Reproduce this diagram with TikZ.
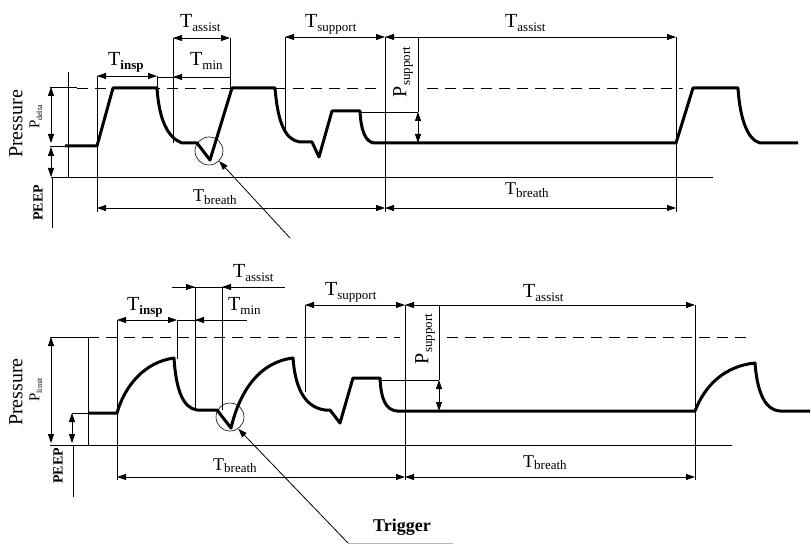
\documentclass[tikz,border=0pt]{standalone}
\usepackage{fontspec}
\setmainfont{Liberation Serif}
\usepackage{tikz}
\usetikzlibrary{arrows.meta}
\newcommand{\Tsub}[1]{T\raisebox{-0.35ex}{\fontsize{13}{13}\selectfont #1}}
\newcommand{\Psub}[2]{P\raisebox{-0.4ex}{\fontsize{#2}{#2}\selectfont #1}}
\tikzset{
  wave/.style={line width=3pt, line join=round},
  guide/.style={line width=0.8pt},
  refline/.style={line width=0.9pt, dash pattern=on 11pt off 7pt},
  dim/.style={guide, {Triangle[length=9pt,width=6pt]}-{Triangle[length=9pt,width=6pt]}},
  tip/.style={guide, -{Triangle[length=9pt,width=6pt]}},
  tlabel/.style={font=\fontsize{20}{20}\selectfont, inner sep=0pt, anchor=base west},
  blabel/.style={tlabel, font=\fontsize{18}{18}\selectfont},
  axlabel/.style={font=\fontsize{20}{20}\selectfont, rotate=90, inner sep=0pt},
  plabel/.style={font=\fontsize{15}{15}\selectfont, rotate=90, inner sep=0pt},
  peeplabel/.style={font=\bfseries\fontsize{14}{14}\selectfont, rotate=90, inner sep=0pt},
  trigcirc/.style={circle, draw, line width=0.6pt, minimum size=28pt, inner sep=0pt},
}
\begin{document}
\begin{tikzpicture}[x=1pt,y=-1pt]
\useasboundingbox (0,0) rectangle (811,545);
% upper panel: volume-limited breaths
\draw[guide] (51,177) -- (713,177);
\draw[guide] (52,177) -- (52,228);
\draw[guide] (68,72) -- (68,177);
\draw[guide] (50,87) -- (77,87);
\draw[refline] (77,88) -- (377,88);
\draw[refline] (427,88) -- (683,88);
\draw[dim] (51,87) -- (51,143);
\draw[dim] (51,147) -- (51,177);
\draw[guide] (50,146) -- (65,146);
\draw[wave] (65,146) -- (97,146) -- (113,88) -- (157,88)
  .. controls (159,120) and (168,138) .. (182,143) -- (197,143) -- (210,160) -- (232,88) -- (275,88)
  .. controls (278,125) and (286,140) .. (300,142) -- (312,142) -- (319,157) -- (332,111) -- (360,111)
  .. controls (361,132) and (366,142) .. (374,143) -- (676,143) -- (693,88) -- (738,88)
  .. controls (740,120) and (748,140) .. (760,143) -- (798,143);
\draw[guide] (97,76) -- (97,212);
\draw[guide] (157,76) -- (157,88);
\draw[guide] (173,38) -- (173,143);
\draw[guide] (230,38) -- (230,88);
\draw[guide] (285,37) -- (285,130);
\draw[guide] (385,37) -- (385,212);
\draw[guide] (676,37) -- (676,212);
\draw[guide] (418,37) -- (418,112);
\draw[guide] (360,112) -- (418,112);
\draw[dim] (97,76) -- (157,76);
\draw[guide] (157,77) -- (230,77);
\draw[tip] (205,77) -- (173,77);
\draw[dim] (173,38) -- (230,38);
\draw[dim] (285,37) -- (385,37);
\draw[dim] (385,37) -- (676,37);
\draw[dim] (418,112) -- (418,143);
\draw[dim] (97,208) -- (385,208);
\draw[dim] (385,208) -- (676,208);
\node[tlabel] (assistA) at (180,28) {\Tsub{assist}};
\node[tlabel] (inspA) at (108,66) {\Tsub{\textbf{insp}}};
\node[tlabel] (minA) at (190,66) {\Tsub{min}};
\node[tlabel] (supportA) at (305,28) {\Tsub{support}};
\node[tlabel] (assistB) at (505,28) {\Tsub{assist}};
\node[blabel] (breathA) at (193,202) {\Tsub{breath}};
\node[blabel] (breathB) at (505,195) {\Tsub{breath}};
\node[axlabel] (psupA) at (403,72) {\Psub{support}{13}};
\node[axlabel] (pressA) at (16,124) {Pressure};
\node[plabel] (pdelta) at (36,117) {\Psub{delta}{8}};
\node[peeplabel] (peepA) at (38,203) {PEEP};
\node[trigcirc] (dipA) at (209,151) {};
\coordinate (tailA) at (290,238);
\draw[tip] (tailA) -- (dipA.south east);
% lower panel: pressure-limited breaths
\draw[guide] (50,445) -- (732,445);
\draw[guide] (73,445) -- (73,497);
\draw[guide] (88,337) -- (88,445);
\draw[guide] (50,337) -- (88,337);
\draw[refline] (88,337) -- (400,337);
\draw[refline] (447,337) -- (750,337);
\draw[dim] (51,337) -- (51,443);
\draw[dim] (72,413) -- (72,443);
\draw[guide] (72,413) -- (88,413);
\draw[wave] (88,413) -- (117,413) .. controls (125,385) and (145,362) .. (174,358)
  .. controls (176,390) and (183,408) .. (197,410) -- (217,410) -- (231,428)
  .. controls (240,390) and (260,362) .. (293,358)
  .. controls (295,385) and (303,407) .. (325,410) -- (330,410) -- (340,423) -- (353,378) -- (380,378)
  .. controls (381,400) and (386,410) .. (397,411) -- (695,411)
  .. controls (705,385) and (725,366) .. (755,363)
  .. controls (757,390) and (764,410) .. (780,411) -- (810,411);
\draw[guide] (117,320) -- (117,480);
\draw[guide] (177,320) -- (177,359);
\draw[guide] (195,287) -- (195,410);
\draw[guide] (222,287) -- (222,410);
\draw[guide] (305,305) -- (305,392);
\draw[guide] (405,305) -- (405,480);
\draw[guide] (695,305) -- (695,480);
\draw[guide] (439,305) -- (439,380);
\draw[guide] (380,380) -- (439,380);
\draw[guide] (172,287) -- (285,287);
\draw[tip] (172,287) -- (195,287);
\draw[tip] (285,287) -- (222,287);
\draw[dim] (117,320) -- (177,320);
\draw[guide] (177,320) -- (247,320);
\draw[tip] (230,320) -- (195,320);
\draw[dim] (305,305) -- (405,305);
\draw[dim] (405,305) -- (695,305);
\draw[dim] (439,380) -- (439,411);
\draw[dim] (117,477) -- (405,477);
\draw[dim] (405,477) -- (695,477);
\node[tlabel] (assistC) at (233,278) {\Tsub{assist}};
\node[tlabel] (inspB) at (127,311) {\Tsub{\textbf{insp}}};
\node[tlabel] (minB) at (228,311) {\Tsub{min}};
\node[tlabel] (supportB) at (325,296) {\Tsub{support}};
\node[tlabel] (assistD) at (523,298) {\Tsub{assist}};
\node[blabel] (breathC) at (213,470) {\Tsub{breath}};
\node[blabel] (breathD) at (523,467) {\Tsub{breath}};
\node[axlabel] (psupB) at (425,339) {\Psub{support}{13}};
\node[axlabel] (pressB) at (16,392) {Pressure};
\node[plabel] (plimit) at (36,390) {\Psub{limit}{8}};
\node[peeplabel] (peepB) at (58,466) {PEEP};
\node[trigcirc] (dipB) at (230,417) {};
\node[font=\bfseries\fontsize{18}{18}\selectfont, inner sep=0pt] (trigger) at (402,527) {Trigger};
\coordinate (tailB) at (348,543);
\draw[tip] (tailB) -- (dipB.-55);
\draw[guide, gray!60] (tailB) -- (453,543);
\end{tikzpicture}
\end{document}
